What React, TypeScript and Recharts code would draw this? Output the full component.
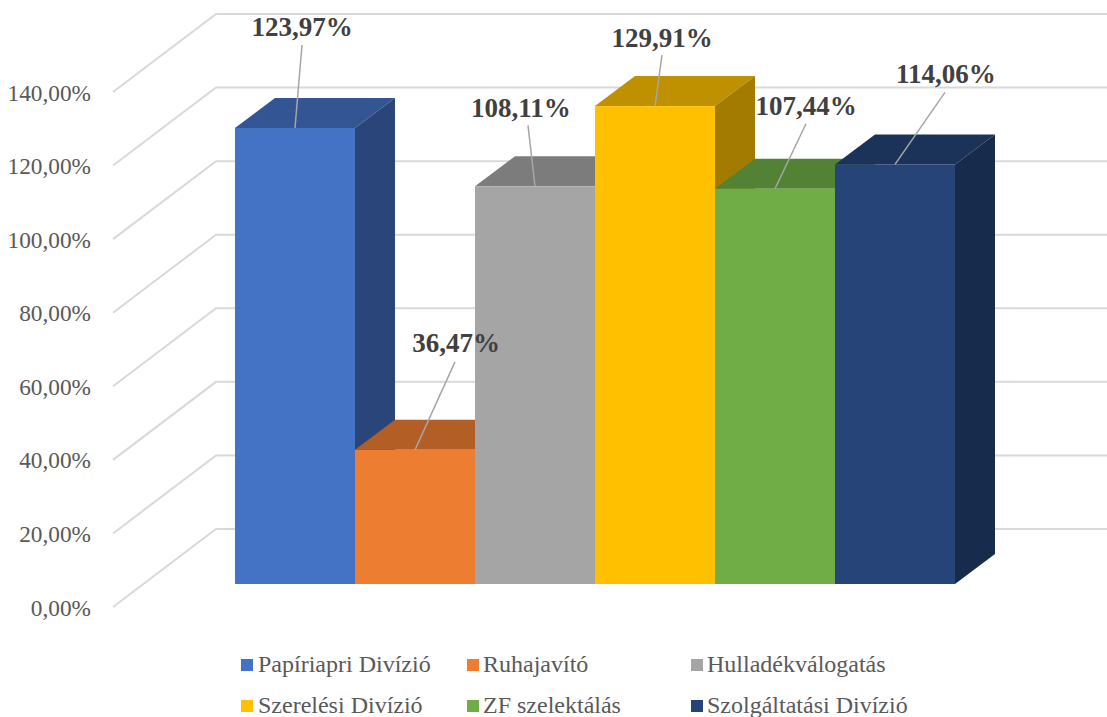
import React from "react";
import { BarChart, Bar, XAxis, YAxis, CartesianGrid, Legend } from "recharts";

const seriesNames = [
  "Papíriapri Divízió",
  "Ruhajavító",
  "Hulladékválogatás",
  "Szerelési Divízió",
  "ZF szelektálás",
  "Szolgáltatási Divízió",
];
const seriesValues = [123.97, 36.47, 108.11, 129.91, 107.44, 114.06];
const yTicks = [0, 20, 40, 60, 80, 100, 120, 140];

const frontColors = ["#4472C4", "#ED7D31", "#A5A5A5", "#FFC000", "#70AD47", "#264478"];
const topColors = ["#335593", "#B25E25", "#7C7C7C", "#BF9000", "#548235", "#1C3359"];
const sideColors = ["#2A4579", "#9A4F1E", "#6B6B6B", "#A37B00", "#4A7030", "#172B4C"];

// label centre and leader end, relative to the middle of the bar's top edge
const labelOffsets = [
  [7, -101, 7, -83],
  [41, -107, 40, -88],
  [-14, -78, -7, -61],
  [7, -68, 7, -51],
  [31, -83, 31, -65],
  [51, -90, 50, -72],
];

const chartRow: Record<string, string | number> = { name: "Divíziók" };
seriesNames.forEach((n, i) => {
  chartRow[n] = seriesValues[i];
});

const DEPTH_X = 40;
const DEPTH_Y = 30;
const SERIF = "'Liberation Serif', 'Times New Roman', serif";

const formatPct = (v: number) => v.toFixed(2).replace(".", ",") + "%";

function Box3D({ x, y, width, height, index }: any) {
  const r = x + width;
  const b = y + height;
  return (
    <g>
      <path
        d={`M${x},${y}L${x + DEPTH_X},${y - DEPTH_Y}L${r + DEPTH_X},${y - DEPTH_Y}L${r},${y}Z`}
        fill={topColors[index]}
      />
      <path
        d={`M${r},${y}L${r + DEPTH_X},${y - DEPTH_Y}L${r + DEPTH_X},${b - DEPTH_Y}L${r},${b}Z`}
        fill={sideColors[index]}
      />
      <rect x={x} y={y} width={width} height={height} fill={frontColors[index]} />
    </g>
  );
}

function BarLabel({ x, y, width, value, index }: any) {
  const [tx, ty, lx, ly] = labelOffsets[index];
  const cx = x + width / 2;
  return (
    <g>
      <line x1={cx} y1={y} x2={cx + lx} y2={y + ly} stroke="#A6A6A6" strokeWidth={1.5} />
      <text
        x={cx + tx}
        y={y + ty}
        textAnchor="middle"
        dominantBaseline="central"
        fontFamily={SERIF}
        fontSize={27}
        fontWeight="bold"
        fill="#404040"
      >
        {formatPct(value)}
      </text>
    </g>
  );
}

function GridLine({ y1 }: any) {
  return (
    <path
      d={`M113,${y1 + 23}L216,${y1 - 55}L1107,${y1 - 55}`}
      fill="none"
      stroke="#D9D9D9"
      strokeWidth={2}
    />
  );
}

function YTick({ y, payload }: any) {
  return (
    <text
      x={91}
      y={y + 23.5}
      textAnchor="end"
      dominantBaseline="central"
      fontFamily={SERIF}
      fontSize={23.3}
      fill="#595959"
    >
      {formatPct(payload.value)}
    </text>
  );
}

function LegendBox() {
  return (
    <div
      style={{
        display: "grid",
        gridTemplateColumns: "226px 224px 300px",
        gridAutoRows: "41px",
        fontFamily: SERIF,
        fontSize: 24,
        color: "#595959",
      }}
    >
      {seriesNames.map((n, i) => (
        <div key={n} style={{ display: "flex", alignItems: "center", whiteSpace: "nowrap" }}>
          <span style={{ width: 12, height: 12, marginRight: i % 3 === 0 ? 5 : 4, background: frontColors[i] }} />
          {n}
        </div>
      ))}
    </div>
  );
}

export default function App() {
  return (
    <div style={{ position: "absolute", left: 0, top: 0, width: 1107, height: 717, background: "#fff" }}>
      <BarChart
        width={1107}
        height={717}
        data={[chartRow]}
        barGap={0}
        barCategoryGap={0}
        margin={{ top: 69, right: 152, bottom: 51, left: 115 }}
      >
        <CartesianGrid vertical={false} horizontal={(p: any) => <GridLine key={p.key} y1={p.y1} />} />
        <XAxis dataKey="name" hide />
        <YAxis
          width={120}
          domain={[0, 140]}
          ticks={yTicks}
          axisLine={false}
          tickLine={false}
          tick={<YTick />}
          interval={0}
        />
        {seriesNames.map((n, i) => (
          <Bar
            key={n}
            dataKey={n}
            isAnimationActive={false}
            shape={(p: any) => <Box3D {...p} index={i} />}
            label={(p: any) => <BarLabel {...p} index={i} />}
          />
        ))}
        <Legend
          content={<LegendBox />}
          layout="horizontal"
          wrapperStyle={{ left: 241, top: 644, width: 760, bottom: "auto" }}
        />
      </BarChart>
    </div>
  );
}
